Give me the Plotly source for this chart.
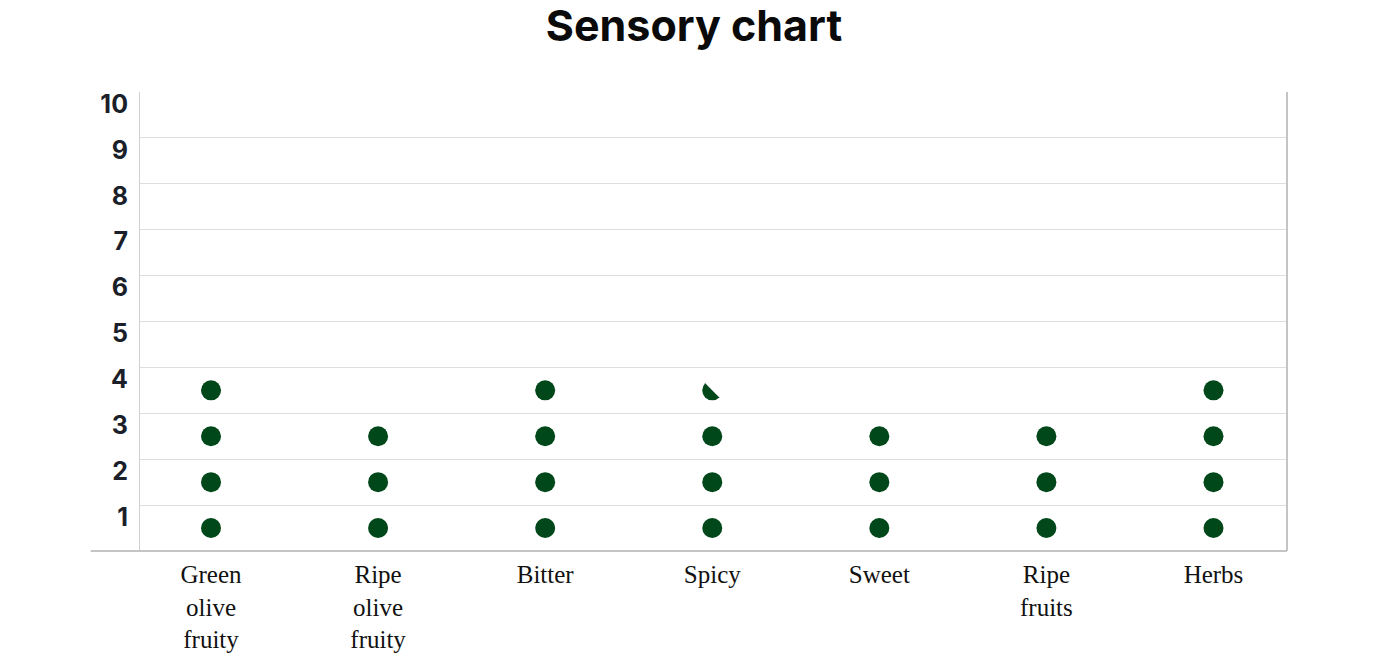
import plotly.graph_objects as go

# sensory profile, score out of 10 (each olive = 1 point)
categories = ['Green<br>olive<br>fruity', 'Ripe<br>olive<br>fruity', 'Bitter', 'Spicy', 'Sweet', 'Ripe<br>fruits', 'Herbs']
scores = [4, 3, 4, 3.5, 3, 3, 4]
tick_values = [1, 2, 3, 4, 5, 6, 7, 8, 9, 10]

# one olive per point started; a half point gets a cut olive
olive_x, olive_y, cut_x, cut_y = [], [], [], []
for cat, s in zip(categories, scores):
    n = 0
    while n < s:
        olive_x.append(cat)
        olive_y.append(n + 0.5)
        if s - n < 1:
            cut_x.append(cat)
            cut_y.append(n + 0.5)
        n += 1

olive = '#00471a'

fig = go.Figure()
fig.add_trace(go.Scatter(x=olive_x, y=olive_y, mode='markers',
                         marker=dict(symbol='circle', size=20, color=olive, line=dict(width=0)),
                         hoverinfo='skip'))
# white square pushed to the upper right hides that half of the olive
fig.add_trace(go.Scatter(x=cut_x, y=cut_y, mode='markers',
                         marker=dict(symbol='square', size=20, angle=225, standoff=10,
                                     color='white', line=dict(width=0)),
                         hoverinfo='skip'))

fig.update_layout(
    width=1372, height=649,
    paper_bgcolor='white', plot_bgcolor='white',
    showlegend=False,
    margin=dict(l=132, r=93, t=84, b=106, autoexpand=False),
    title=dict(text='<b>Sensory chart</b>', x=0.5, xanchor='center', y=0.972, yanchor='middle',
               font=dict(family='Inter, Lato, sans-serif', size=43, color='#0a0a0a')),
    xaxis=dict(type='category', categoryorder='array', categoryarray=categories,
               range=[-0.425, 6.44], showgrid=False, zeroline=False, showline=False,
               ticks='', ticklabelstandoff=6, automargin=False,
               tickfont=dict(family='Liberation Serif, serif', size=25, color='#111111')),
    yaxis=dict(range=[0, 10], tickvals=tick_values, ticktext=[str(v) for v in tick_values],
               showgrid=True, gridcolor='#dedede', gridwidth=1,
               zeroline=False, showline=True, linecolor='#d0d0d0', linewidth=1,
               ticks='', ticklabelshift=12, ticklabelstandoff=6, automargin=False,
               tickfont=dict(family='Inter, Lato, sans-serif', size=25, weight='bold', color='#1b1f2a')),
)

# bottom axis line running past the left edge, right border
fig.add_shape(type='line', xref='paper', yref='paper', x0=-0.043, x1=1, y0=0, y1=0,
              line=dict(color='#c4c4c4', width=2))
fig.add_shape(type='line', xref='paper', yref='paper', x0=1, x1=1, y0=0, y1=1,
              line=dict(color='#c4c4c4', width=2))

fig.write_html('out.html')
